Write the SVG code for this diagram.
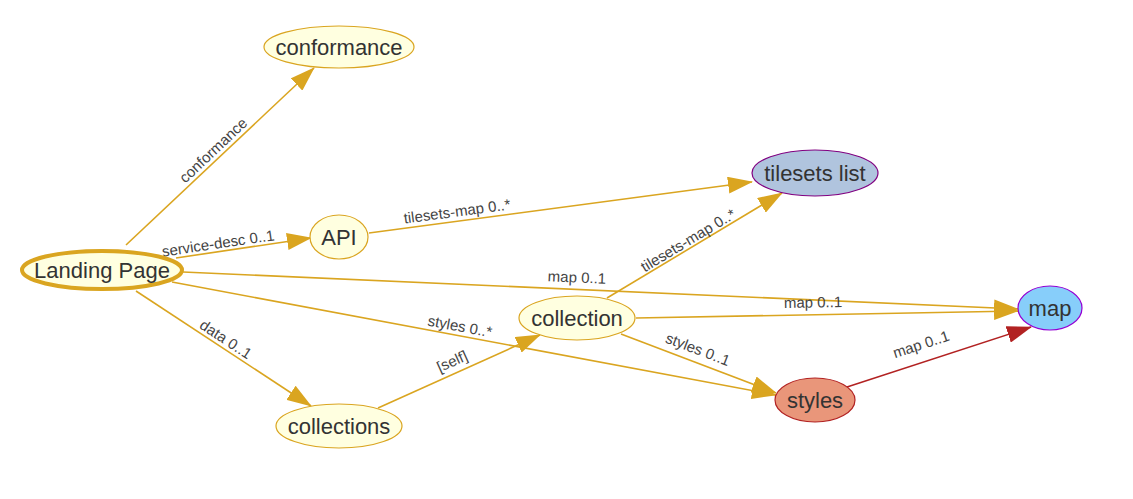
<svg xmlns="http://www.w3.org/2000/svg" width="1133" height="499" viewBox="0 0 1133 499">
<defs>
<style>
.n{fill:#ffffe0;stroke:#daa520;stroke-width:1.2}
.t{font-family:"Liberation Sans",Arial,sans-serif;font-size:22px;fill:#333;text-anchor:middle;dominant-baseline:central}
.e{fill:none;stroke:#daa520;stroke-width:1.6}
.r{fill:none;stroke:#b22222;stroke-width:1.6}
.l{font-family:"Liberation Sans",Arial,sans-serif;font-size:15px;fill:#444;text-anchor:middle;dominant-baseline:central}
</style>
<marker id="a" markerUnits="userSpaceOnUse" markerWidth="25" markerHeight="17" refX="24" refY="8.5" orient="auto"><path d="M0,0 L25,8.5 L0,17 z" fill="#daa520"/></marker>
<marker id="ar" markerUnits="userSpaceOnUse" markerWidth="25" markerHeight="17" refX="24" refY="8.5" orient="auto"><path d="M0,0 L25,8.5 L0,17 z" fill="#b22222"/></marker>
</defs>
<rect width="1133" height="499" fill="#fff"/>
<g id="connectors">
<path class="e" d="M126,245 L314,68" marker-end="url(#a)"/>
<path class="e" d="M176,258 L311,238" marker-end="url(#a)"/>
<path class="e" d="M369,233 L752,182" marker-end="url(#a)"/>
<path class="e" d="M183,272 L1018,309" marker-end="url(#a)"/>
<path class="e" d="M172,282 L776,395" marker-end="url(#a)"/>
<path class="e" d="M136,291 L311,406" marker-end="url(#a)"/>
<path class="e" d="M378,408 L540,335" marker-end="url(#a)"/>
<path class="e" d="M607,298 L782,193" marker-end="url(#a)"/>
<path class="e" d="M636,318 L1018,311" marker-end="url(#a)"/>
<path class="e" d="M621,334 L776,393" marker-end="url(#a)"/>
<path class="r" d="M847,387 L1031,327" marker-end="url(#ar)"/>
<text class="l" transform="translate(213,150) rotate(-43.4)">conformance</text>
<text class="l" transform="translate(218,243) rotate(-8.4)">service-desc 0..1</text>
<text class="l" transform="translate(457,211) rotate(-7.6)">tilesets-map 0..*</text>
<text class="l" transform="translate(577,277) rotate(2.5)">map 0..1</text>
<text class="l" transform="translate(460,326) rotate(10.6)">styles 0..*</text>
<text class="l" transform="translate(226,339) rotate(33.3)">data 0..1</text>
<text class="l" transform="translate(452,361) rotate(-24.3)">[self]</text>
<text class="l" transform="translate(688,240) rotate(-31)">tilesets-map 0..*</text>
<text class="l" transform="translate(813,302) rotate(-1)">map 0..1</text>
<text class="l" transform="translate(698,349) rotate(20.8)">styles 0..1</text>
<text class="l" transform="translate(921,344) rotate(-18.2)">map 0..1</text>
</g>
<g id="landing"><ellipse class="n" cx="102" cy="270" rx="80" ry="19" style="stroke-width:4"/><text class="t" x="102" y="270">Landing Page</text></g>
<g id="conformance"><ellipse class="n" cx="339" cy="47" rx="75" ry="21"/><text class="t" x="339" y="47">conformance</text></g>
<g id="api"><ellipse class="n" cx="339" cy="237" rx="29" ry="22"/><text class="t" x="339" y="237">API</text></g>
<g id="tilesets"><ellipse cx="815" cy="173" rx="63" ry="23" fill="#b0c4de" stroke="#800080" stroke-width="1.2"/><text class="t" x="815" y="173">tilesets list</text></g>
<g id="map"><ellipse cx="1050" cy="308" rx="32" ry="22" fill="#87cefa" stroke="#9400d3" stroke-width="1.2"/><text class="t" x="1050" y="308">map</text></g>
<g id="collection"><ellipse class="n" cx="577" cy="318" rx="58" ry="22"/><text class="t" x="577" y="318">collection</text></g>
<g id="styles"><ellipse cx="815" cy="400" rx="40" ry="22" fill="#e9967a" stroke="#b22222" stroke-width="1.2"/><text class="t" x="815" y="400">styles</text></g>
<g id="collections"><ellipse class="n" cx="339" cy="426" rx="63" ry="22"/><text class="t" x="339" y="426">collections</text></g>
</svg>
